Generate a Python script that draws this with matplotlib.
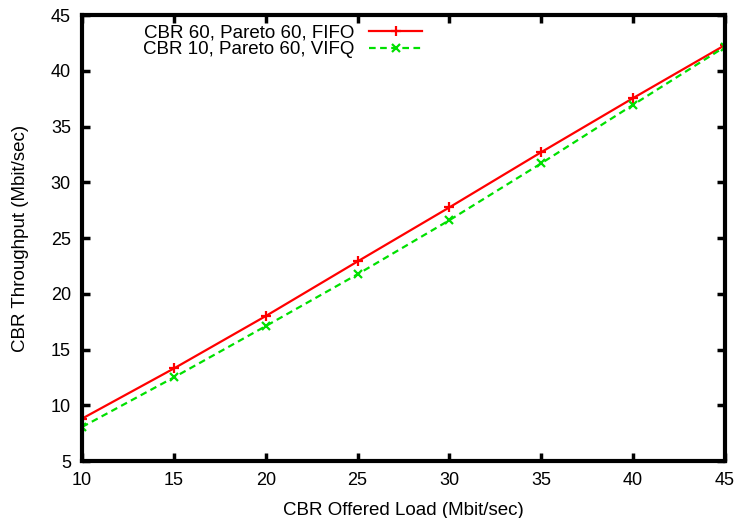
import matplotlib
matplotlib.use("Agg")
import matplotlib.pyplot as plt

plt.rcParams['font.family'] = ['Liberation Sans', 'DejaVu Sans']

load = [10, 15, 20, 25, 30, 35, 40, 45]
fifo = [8.8, 13.3, 18.0, 22.9, 27.75, 32.7, 37.55, 42.3]
vifq = [8.05, 12.5, 17.1, 21.75, 26.6, 31.7, 36.95, 42.15]
xticks = [10, 15, 20, 25, 30, 35, 40, 45]
yticks = [5, 10, 15, 20, 25, 30, 35, 40, 45]

fig = plt.figure(figsize=(7.39, 5.18), dpi=100)
ax = fig.add_axes([0.111, 0.110, 0.870, 0.861])

ax.plot(load, fifo, color='#ff0000', lw=1.6, marker='+', ms=7, mew=1.6,
        label='CBR 60, Pareto 60, FIFO')
ax.plot(load, vifq, color='#00e000', lw=1.6, ls=(0, (3, 2)), marker='x', ms=6, mew=1.6,
        label='CBR 10, Pareto 60, VIFQ')

ax.set_xlim(10, 45)
ax.set_ylim(5, 45)
ax.set_xticks(xticks)
ax.set_yticks(yticks)
ax.tick_params(direction='in', top=True, right=True, length=6, width=2.5, labelsize=13)
ax.tick_params(axis='y', pad=8)
ax.tick_params(axis='x', pad=8)
for s in ax.spines.values():
    s.set_linewidth(3)

ax.set_xlabel('CBR Offered Load (Mbit/sec)', fontsize=13.5, labelpad=9)
ax.set_ylabel('CBR Throughput (Mbit/sec)', fontsize=13.5, labelpad=16)

leg = ax.legend(loc='upper left', bbox_to_anchor=(0.095, 0.98), frameon=False, markerfirst=False,
                fontsize=13.5, handlelength=2.8, handletextpad=0.8, labelspacing=0.0,
                borderaxespad=0, borderpad=0)

fig.savefig('out.png', dpi=100)
